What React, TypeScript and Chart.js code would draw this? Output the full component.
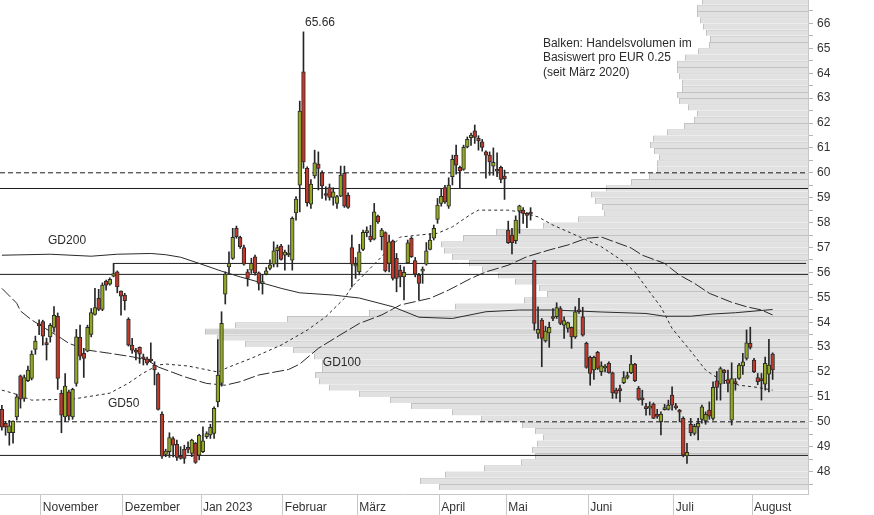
import React, { useEffect, useRef } from 'react';
import { Chart, registerables } from 'chart.js';

Chart.register(...registerables);

const FONT = '"Liberation Sans", Arial, Helvetica, sans-serif';
const CANVAS_W = 874;
const CANVAS_H = 515;
const X_AXIS_H = 21;
const Y_AXIS_W = 66;

// x axis: trading-day slots per month (Aug includes empty slots to the right)
const monthNames = ['Oktober', 'November', 'Dezember', 'Jan 2023', 'Februar', 'März', 'April', 'Mai', 'Juni', 'Juli', 'August'];
const monthSlots = [11, 22, 21, 22, 20, 22, 18, 22, 23, 21, 15];

// daily candles
const opens = [
  50.50, 49.94, 49.56, 49.56, 50.20, 51.85, 50.94, 51.65, 51.74, 52.91,
  53.90, 54.02, 53.13, 53.41, 53.79, 54.24, 51.14, 50.20, 51.20, 50.20,
  51.54, 53.39, 52.75, 52.84, 53.51, 54.31, 54.96, 54.51, 55.65, 55.53,
  55.85, 56.02, 55.25, 55.09, 54.12, 53.08, 52.83, 52.99, 52.56, 52.53,
  52.47, 52.28, 51.92, 50.31, 48.69, 48.80, 49.33, 49.09, 48.62, 48.89,
  48.92, 48.73, 49.13, 48.66, 48.80, 49.40, 49.47, 49.53, 50.80, 51.54,
  55.13, 56.22, 56.56, 57.77, 57.41, 57.00, 56.02, 56.09, 56.63, 55.98,
  55.55, 55.93, 56.16, 56.33, 56.87, 57.06, 56.69, 56.70, 56.49, 58.39,
  59.50, 64.06, 60.18, 58.74, 59.87, 60.35, 60.00, 59.12, 59.41, 59.01,
  58.77, 59.06, 59.98, 59.10, 57.00, 56.25, 56.02, 56.92, 57.60, 57.46,
  57.33, 58.26, 57.43, 57.60, 56.36, 57.27, 56.56, 56.09, 55.82, 56.38,
  57.37, 56.47, 55.89, 56.05, 56.33, 56.92, 57.37, 58.13, 58.77, 59.41,
  58.66, 59.84, 60.71, 60.22, 60.14, 61.04, 61.41, 61.69, 61.38, 61.24,
  60.84, 60.71, 60.27, 60.10, 60.22, 59.87, 57.70, 57.50, 57.27, 58.46,
  58.50, 58.31, 58.36, 56.47, 53.55, 54.08, 53.25, 53.57, 54.17, 54.22,
  54.55, 53.88, 53.75, 53.79, 53.41, 54.45, 54.22, 53.15, 52.59, 52.08,
  52.79, 52.01, 52.16, 52.35, 51.97, 51.27, 51.28, 51.57, 51.78, 51.97,
  52.32, 51.34, 50.91, 50.56, 50.55, 50.71, 50.25, 50.00, 50.49, 50.50,
  51.07, 50.58, 50.41, 50.14, 48.63, 49.90, 49.53, 49.78, 50.10, 50.04,
  50.47, 50.14, 51.65, 51.51, 52.08, 51.70, 50.07, 51.56, 51.74, 52.24,
  52.55, 53.15, 52.48, 51.78, 51.74, 51.51, 51.91, 52.72,
];
const highs = [
  50.66, 50.02, 50.06, 50.04, 51.11, 51.88, 51.88, 52.24, 52.85, 53.44,
  54.10, 54.08, 53.36, 53.95, 54.63, 54.37, 51.27, 51.94, 51.27, 51.35,
  53.71, 53.88, 52.95, 53.88, 54.55, 55.36, 55.32, 55.58, 55.69, 55.78,
  56.36, 56.06, 55.26, 55.16, 54.18, 53.35, 52.95, 53.01, 52.72, 52.60,
  53.17, 52.41, 51.97, 50.40, 48.90, 49.56, 49.40, 49.27, 49.00, 49.06,
  49.20, 49.30, 49.17, 49.50, 49.80, 49.60, 49.90, 50.60, 53.30, 54.42,
  56.02, 56.83, 57.77, 57.86, 57.46, 57.10, 56.12, 56.57, 56.70, 56.02,
  55.90, 56.20, 56.50, 57.23, 57.10, 57.13, 56.90, 57.10, 58.23, 59.04,
  62.88, 65.66, 60.24, 59.73, 60.91, 60.84, 60.08, 59.44, 59.55, 59.40,
  59.10, 60.27, 60.27, 59.20, 57.50, 56.60, 57.13, 57.70, 57.83, 57.89,
  58.77, 58.30, 57.77, 57.63, 57.50, 57.30, 56.76, 56.29, 56.22, 57.30,
  57.43, 56.60, 55.96, 56.22, 57.20, 57.56, 57.90, 58.97, 59.37, 59.50,
  59.80, 60.71, 61.11, 60.27, 61.11, 61.44, 61.60, 61.92, 61.49, 61.34,
  60.88, 60.84, 61.00, 60.80, 60.27, 60.11, 58.06, 57.77, 58.27, 58.70,
  58.60, 58.40, 58.60, 56.49, 54.62, 54.15, 53.84, 54.00, 54.55, 54.78,
  54.63, 54.22, 54.00, 53.81, 54.62, 54.96, 54.60, 53.20, 52.64, 52.64,
  52.83, 52.41, 52.30, 52.41, 52.00, 51.35, 51.47, 52.02, 52.00, 52.67,
  52.35, 51.42, 51.27, 50.74, 50.80, 50.76, 50.50, 50.40, 50.70, 50.87,
  51.40, 50.74, 50.50, 50.20, 49.13, 50.14, 49.90, 50.14, 50.67, 50.40,
  50.80, 51.60, 52.02, 52.20, 52.10, 52.08, 52.37, 51.74, 52.35, 52.75,
  53.69, 53.80, 52.55, 51.94, 51.94, 52.60, 53.31, 52.77,
];
const lows = [
  49.66, 49.46, 49.06, 49.14, 50.07, 50.55, 50.82, 51.61, 51.68, 52.71,
  53.50, 53.08, 52.48, 53.20, 53.60, 51.30, 49.56, 50.00, 50.07, 50.10,
  51.43, 52.48, 51.78, 52.81, 53.41, 54.28, 54.46, 54.46, 55.29, 55.49,
  55.82, 55.18, 54.28, 54.49, 53.04, 52.75, 52.48, 52.35, 52.28, 52.28,
  52.40, 51.48, 50.47, 48.53, 48.60, 48.57, 48.59, 48.45, 48.50, 48.33,
  48.75, 48.60, 48.33, 48.47, 48.76, 49.33, 49.33, 49.33, 50.60, 51.43,
  54.73, 55.96, 56.52, 57.37, 56.96, 56.29, 55.45, 55.96, 55.89, 55.29,
  55.13, 55.90, 56.10, 56.22, 56.22, 56.49, 56.09, 56.63, 56.09, 58.10,
  58.43, 60.18, 58.66, 58.57, 59.78, 59.31, 58.97, 58.90, 58.90, 58.70,
  58.57, 59.04, 58.61, 58.57, 55.42, 55.76, 55.90, 56.87, 57.43, 57.23,
  57.30, 57.97, 56.90, 56.02, 56.02, 55.69, 55.22, 55.42, 54.89, 56.36,
  56.60, 55.82, 54.89, 55.56, 56.29, 56.90, 57.30, 57.97, 58.66, 58.77,
  58.57, 59.51, 59.95, 59.37, 60.10, 61.00, 61.10, 61.18, 60.91, 60.87,
  59.78, 59.90, 59.90, 59.84, 59.60, 58.93, 57.16, 56.74, 57.16, 57.57,
  57.97, 57.80, 58.10, 53.68, 53.35, 52.21, 53.20, 52.99, 54.06, 54.15,
  53.90, 53.35, 53.60, 52.95, 53.35, 54.35, 53.44, 52.15, 51.47, 51.70,
  52.10, 51.86, 52.00, 51.95, 50.94, 50.94, 50.80, 51.53, 51.72, 51.93,
  51.61, 50.86, 50.67, 50.27, 50.27, 50.13, 50.14, 49.47, 50.47, 50.47,
  50.47, 50.50, 50.00, 48.59, 48.33, 49.44, 49.47, 49.27, 49.94, 49.90,
  50.10, 50.07, 50.87, 50.87, 51.53, 51.20, 49.87, 51.27, 51.70, 51.90,
  52.48, 52.92, 51.97, 51.49, 50.87, 51.27, 51.20, 51.70,
];
const closes = [
  49.78, 49.78, 49.84, 50.03, 51.00, 50.91, 51.78, 52.08, 52.72, 53.24,
  53.85, 53.44, 53.10, 53.87, 54.28, 51.74, 50.27, 51.43, 50.23, 51.30,
  53.41, 52.64, 52.55, 53.79, 54.39, 54.59, 54.51, 55.49, 55.49, 55.72,
  55.95, 55.42, 55.05, 54.86, 53.08, 52.88, 52.80, 52.72, 52.53, 52.35,
  52.44, 52.08, 50.50, 48.62, 48.82, 49.37, 49.06, 48.57, 48.53, 48.53,
  48.89, 49.27, 48.37, 49.47, 49.24, 49.53, 49.78, 50.54, 51.88, 53.95,
  55.93, 56.36, 57.41, 57.43, 57.03, 56.33, 55.76, 56.36, 55.98, 55.56,
  55.60, 56.06, 56.30, 56.87, 57.00, 56.52, 56.82, 56.74, 58.17, 58.94,
  62.48, 60.44, 58.80, 59.55, 60.40, 60.18, 59.47, 59.09, 59.01, 59.24,
  59.04, 59.91, 58.66, 58.61, 56.33, 56.30, 56.83, 57.61, 57.63, 57.30,
  58.43, 58.03, 57.70, 56.06, 57.23, 55.76, 55.76, 55.82, 56.00, 57.19,
  56.63, 55.93, 55.56, 56.08, 56.87, 57.30, 57.77, 58.70, 59.06, 58.83,
  59.51, 60.54, 60.31, 60.08, 61.02, 61.34, 61.51, 61.42, 61.28, 61.02,
  60.71, 60.44, 60.42, 60.07, 59.73, 59.76, 57.19, 57.19, 58.10, 58.67,
  58.37, 58.29, 58.34, 53.95, 53.71, 53.35, 53.64, 53.79, 54.15, 54.59,
  53.95, 54.06, 53.98, 53.41, 54.42, 54.42, 53.48, 52.18, 51.94, 52.59,
  52.14, 52.25, 52.18, 51.97, 51.16, 51.14, 51.25, 51.78, 51.83, 52.32,
  51.65, 50.90, 50.88, 50.53, 50.60, 50.14, 50.22, 50.31, 50.52, 50.67,
  50.67, 50.56, 50.39, 48.66, 48.77, 49.56, 49.82, 49.94, 50.60, 50.30,
  50.23, 51.38, 51.38, 52.14, 51.97, 51.54, 51.74, 51.53, 52.28, 52.41,
  53.17, 52.99, 52.01, 51.61, 51.65, 52.35, 52.28, 52.08,
];

// moving averages (read at sample days)
const gd200Idx = [0, 13, 24, 31, 40, 44, 48, 53, 59, 64, 71, 75, 80, 89, 96, 105, 112, 121, 130, 139, 148, 161, 173, 178, 185, 191, 197, 207];
const gd200Val = [56.69, 56.73, 56.65, 56.73, 56.76, 56.71, 56.61, 56.36, 56.05, 55.82, 55.53, 55.36, 55.18, 55.09, 54.97, 54.62, 54.20, 54.15, 54.42, 54.49, 54.49, 54.41, 54.35, 54.24, 54.24, 54.33, 54.38, 54.51];
const gd100Idx = [0, 4, 5, 8, 16, 18, 23, 29, 35, 39, 42, 49, 55, 60, 64, 69, 77, 80, 85, 90, 96, 102, 107, 115, 120, 126, 130, 136, 141, 147, 152, 157, 161, 169, 172, 178, 182, 186, 190, 196, 200, 204, 207];
const gd100Val = [55.36, 54.76, 54.45, 54.09, 53.35, 53.15, 52.88, 52.75, 52.61, 52.48, 52.20, 51.81, 51.54, 51.47, 51.61, 51.88, 52.10, 52.32, 52.95, 53.41, 53.95, 54.29, 54.69, 54.96, 55.29, 55.76, 56.02, 56.29, 56.63, 56.90, 57.10, 57.37, 57.42, 56.98, 56.69, 56.36, 55.89, 55.56, 55.16, 54.80, 54.62, 54.49, 54.29];
const gd50Idx = [0, 3, 8, 19, 29, 34, 38, 42, 44, 50, 58, 61, 67, 75, 82, 87, 92, 94, 102, 107, 112, 117, 121, 126, 128, 136, 139, 144, 148, 153, 157, 161, 163, 167, 170, 173, 177, 180, 185, 189, 192, 198, 203, 207];
const gd50Val = [51.27, 51.15, 50.87, 50.91, 51.15, 51.55, 51.96, 52.28, 52.32, 52.24, 52.00, 52.20, 52.55, 53.08, 53.68, 54.22, 54.96, 55.42, 56.63, 57.42, 57.50, 57.57, 57.83, 58.34, 58.50, 58.50, 58.43, 58.23, 57.90, 57.57, 57.30, 57.03, 56.83, 56.43, 56.02, 55.41, 54.61, 53.75, 52.84, 52.08, 51.78, 51.47, 51.38, 51.27];

// volume profile: bin lower bounds (EUR 0.25 bins) and relative volume
const profileBins = [
  47.00, 47.25, 47.50, 47.75, 48.00, 48.25, 48.50, 48.75, 49.00, 49.25,
  49.50, 49.75, 50.00, 50.25, 50.50, 50.75, 51.00, 51.25, 51.50, 51.75,
  52.00, 52.25, 52.50, 52.75, 53.00, 53.25, 53.50, 53.75, 54.00, 54.25,
  54.50, 54.75, 55.00, 55.25, 55.50, 55.75, 56.00, 56.25, 56.50, 56.75,
  57.00, 57.25, 57.50, 57.75, 58.00, 58.25, 58.50, 58.75, 59.00, 59.25,
  59.50, 59.75, 60.00, 60.25, 60.50, 60.75, 61.00, 61.25, 61.50, 61.75,
  62.00, 62.25, 62.50, 62.75, 63.00, 63.25, 63.50, 63.75, 64.00, 64.25,
  64.50, 64.75, 65.00, 65.25, 65.50, 65.75, 66.00, 66.25, 66.50, 66.75,
];
const profileVolume = [
  369, 388, 363, 324, 287, 273, 276, 271, 265, 273,
  286, 327, 356, 397, 418, 449, 479, 489, 493, 486,
  486, 494, 515, 563, 591, 603, 573, 521, 439, 353,
  284, 261, 269, 293, 310, 326, 339, 356, 364, 367,
  345, 312, 265, 230, 204, 206, 213, 217, 202, 177,
  159, 151, 151, 149, 154, 158, 155, 141, 124, 114,
  111, 120, 129, 131, 126, 126, 129, 131, 131, 123,
  110, 99, 98, 102, 105, 108, 111, 111, 106, 95,
];
const binWidth = 0.25;
const volumeAxisMax = CANVAS_W - Y_AXIS_W;

// horizontal levels
const levelsSolid = [59.37, 55.92, 48.65];
const levelsDashed = [60.0, 50.0];
const resistanceLevel = 56.36;
const resistanceStart = 30;

const priceMin = 47.1;
const priceMax = 66.94;

export default function App() {
  const ref = useRef<HTMLCanvasElement>(null);

  useEffect(() => {
    const canvas = ref.current;
    if (!canvas) return;

    const labels: string[] = [];
    const monthStartLabel: Record<number, string> = {};
    monthNames.forEach((m, mi) => {
      if (mi > 0) monthStartLabel[labels.length] = m;
      for (let d = 0; d < monthSlots[mi]; d++) labels.push(`${m} ${d + 1}`);
    });

    const maxVol = Math.max(...profileVolume);
    const bodyColors = opens.map((o, i) => (closes[i] >= o ? '#93a823' : '#c0392b'));
    const peakIdx = highs.indexOf(Math.max(...highs));
    const plotH = CANVAS_H - X_AXIS_H;
    const binPx = (plotH * binWidth) / (priceMax - priceMin);

    const levelDs = (v: number, dashed: boolean) => ({
      type: 'line' as const,
      xAxisID: 'xl',
      yAxisID: 'y',
      data: [{ x: 0, y: v }, { x: 1, y: v }],
      borderColor: '#1c1c1c',
      borderWidth: 1,
      borderDash: dashed ? [5, 3] : [],
      pointRadius: 0,
      order: 5,
    });
    const maDs = (idx: number[], val: number[], dash: number[]) => ({
      type: 'line' as const,
      xAxisID: 'x',
      yAxisID: 'y',
      data: idx.map((i, k) => ({ x: labels[i], y: val[k] })),
      borderColor: '#2a2a2a',
      borderWidth: 1,
      borderDash: dash,
      pointRadius: 0,
      tension: 0,
      order: 4,
    });

    const notes = [
      { text: 'GD200', i: 12.4, v: 57.26 },
      { text: 'GD100', i: 86.2, v: 52.36 },
      { text: 'GD50', i: 28.5, v: 50.71 },
      { text: 'Balken: Handelsvolumen im', i: 145.3, v: 65.17 },
      { text: 'Basiswert pro EUR 0.25', i: 145.3, v: 64.61 },
      { text: '(seit März 2020)', i: 145.3, v: 64.04 },
      { text: highs[peakIdx].toFixed(2), i: peakIdx + 0.4, v: highs[peakIdx] + 0.37 },
    ];

    const notesPlugin = {
      id: 'notes',
      afterDatasetsDraw(chart: any) {
        const { ctx, scales } = chart;
        const xs = scales.x;
        const ys = scales.y;
        ctx.save();
        ctx.font = `12px ${FONT}`;
        ctx.fillStyle = '#2b2b2b';
        ctx.textAlign = 'left';
        ctx.textBaseline = 'middle';
        notes.forEach((n) => {
          ctx.fillText(n.text, xs.getPixelForValue(n.i), ys.getPixelForValue(n.v));
        });
        ctx.restore();
      },
    };

    Chart.defaults.font.family = FONT;
    Chart.defaults.font.size = 12;
    Chart.defaults.color = '#333';

    const chart = new Chart(canvas, {
      type: 'bar',
      data: {
        labels,
        datasets: [
          {
            type: 'bar',
            label: 'Volumen',
            indexAxis: 'y',
            xAxisID: 'xv',
            yAxisID: 'yv',
            data: profileBins.map((b, i) => ({ x: profileVolume[i], y: b + binWidth / 2 })),
            backgroundColor: profileVolume.map((v) => (v === maxVol ? '#d4d4d4' : '#e1e1e1')),
            borderColor: '#c2c2c2',
            borderWidth: { top: 1, left: 1, right: 0, bottom: 0 },
            borderSkipped: false,
            barThickness: binPx,
            maxBarThickness: binPx,
            barPercentage: 1,
            categoryPercentage: 1,
            inflateAmount: 0,
            order: 10,
          } as any,
          ...levelsSolid.map((v) => levelDs(v, false)),
          ...levelsDashed.map((v) => levelDs(v, true)),
          {
            type: 'line',
            xAxisID: 'x',
            yAxisID: 'y',
            data: [
              { x: labels[resistanceStart], y: levelsSolid[1] },
              { x: labels[resistanceStart], y: resistanceLevel },
              { x: labels[labels.length - 1], y: resistanceLevel },
            ],
            borderColor: '#1c1c1c',
            borderWidth: 1,
            pointRadius: 0,
            order: 5,
          } as any,
          maDs(gd200Idx, gd200Val, []),
          maDs(gd100Idx, gd100Val, [12, 3]),
          maDs(gd50Idx, gd50Val, [3, 3]),
          {
            type: 'bar',
            label: 'Docht',
            xAxisID: 'x',
            yAxisID: 'y',
            data: lows.map((l, i) => [l, highs[i]]),
            backgroundColor: '#262626',
            borderWidth: 0,
            grouped: false,
            barPercentage: 1,
            categoryPercentage: 1,
            maxBarThickness: 1,
            order: 2,
          } as any,
          {
            type: 'bar',
            label: 'Kerze',
            xAxisID: 'x',
            yAxisID: 'y',
            data: opens.map((o, i) => [o, closes[i]]),
            backgroundColor: bodyColors,
            borderColor: '#2b2b2b',
            borderWidth: 1,
            borderSkipped: false,
            grouped: false,
            barPercentage: 1,
            categoryPercentage: 1,
            maxBarThickness: 4,
            minBarLength: 2,
            order: 1,
          } as any,
        ],
      },
      options: {
        animation: false,
        responsive: false,
        devicePixelRatio: 1,
        events: [],
        layout: { padding: 0 },
        plugins: { legend: { display: false }, tooltip: { enabled: false } },
        scales: {
          x: {
            type: 'category',
            position: 'bottom',
            offset: true,
            grid: {
              offset: true,
              drawOnChartArea: false,
              drawTicks: true,
              tickLength: X_AXIS_H,
              color: (c: any) => (c.type === 'tick' && monthStartLabel[c.index] ? '#c8c8c8' : 'rgba(0,0,0,0)'),
            },
            border: { display: true, color: '#c8c8c8' },
            ticks: {
              autoSkip: false,
              maxRotation: 0,
              minRotation: 0,
              align: 'start',
              padding: -15,
              color: '#333',
              font: { family: FONT, size: 12 },
              callback: (_v: any, i: number) => monthStartLabel[i] ?? '',
            },
            afterFit: (s: any) => {
              s.height = X_AXIS_H;
              s.paddingLeft = 0;
              s.paddingRight = 0;
            },
          },
          y: {
            type: 'linear',
            position: 'right',
            min: priceMin,
            max: priceMax,
            offset: false,
            stacked: false,
            grid: { drawOnChartArea: false, drawTicks: true, tickLength: 5, color: '#b4b4b4' },
            border: { display: true, color: '#c8c8c8' },
            ticks: {
              stepSize: 0.5,
              includeBounds: false,
              autoSkip: false,
              maxTicksLimit: 100,
              padding: 4,
              color: '#333',
              font: { family: FONT, size: 12 },
              callback: (v: any) => (Math.abs(v - Math.round(v)) < 1e-6 ? String(Math.round(v)) : ''),
            },
            afterBuildTicks: (s: any) => {
              s.ticks = s.ticks.filter((t: any) => Math.abs(t.value * 2 - Math.round(t.value * 2)) < 1e-6);
            },
            afterFit: (s: any) => {
              s.width = Y_AXIS_W;
              s.paddingTop = 0;
              s.paddingBottom = 0;
            },
          },
          yv: { type: 'linear', display: false, min: priceMin, max: priceMax, offset: false, ticks: { stepSize: 5 } },
          xv: { type: 'linear', display: false, min: 0, max: volumeAxisMax, reverse: true, offset: false },
          xl: { type: 'linear', display: false, min: 0, max: 1, offset: false },
        } as any,
      },
      plugins: [notesPlugin],
    });

    return () => chart.destroy();
  }, []);

  return (
    <div style={{ position: 'fixed', left: 0, top: 0, width: CANVAS_W, height: CANVAS_H, background: '#fff' }}>
      <canvas ref={ref} width={CANVAS_W} height={CANVAS_H} style={{ display: 'block' }} />
    </div>
  );
}
